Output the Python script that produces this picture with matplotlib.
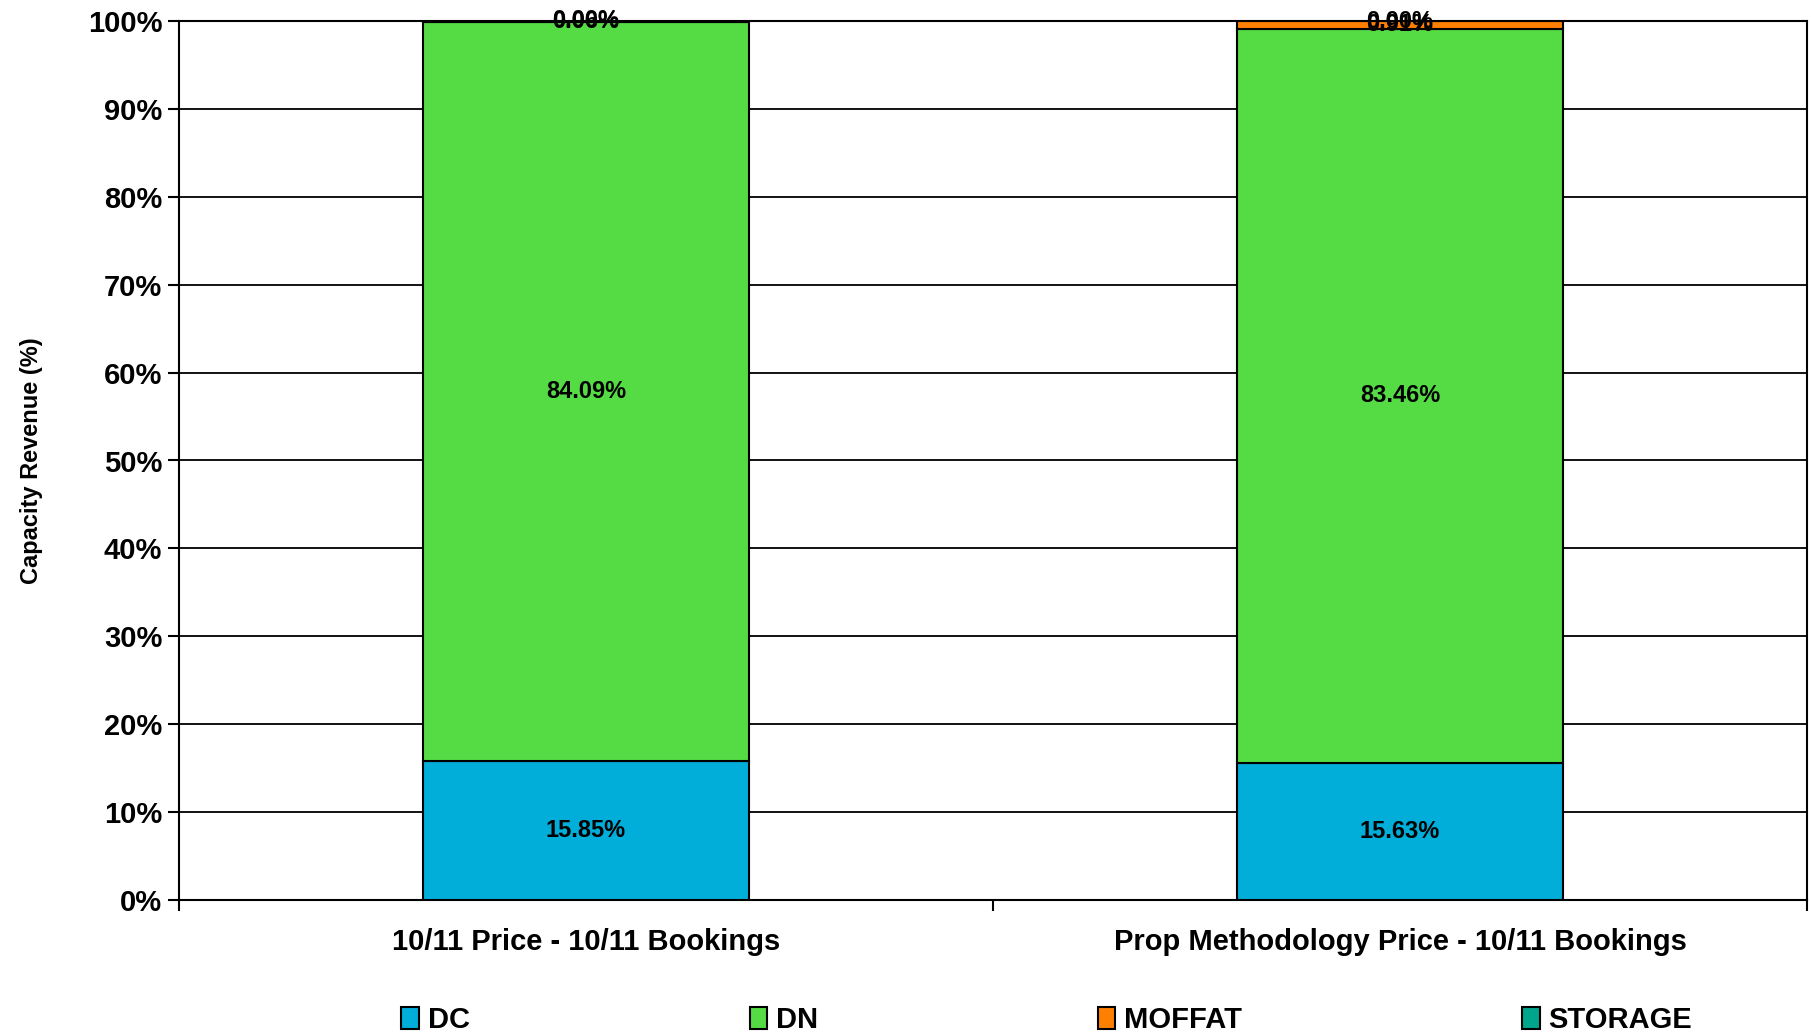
import matplotlib.pyplot as plt
import numpy as np

plt.rcParams['font.family'] = ['Liberation Sans', 'DejaVu Sans']
plt.rcParams['font.weight'] = 'bold'

categories = ['10/11 Price - 10/11 Bookings', 'Prop Methodology Price - 10/11 Bookings']
series = ['DC', 'DN', 'MOFFAT', 'STORAGE']
values = {
    'DC': [15.85, 15.63],
    'DN': [84.09, 83.46],
    'MOFFAT': [0.06, 0.91],
    'STORAGE': [0.00, 0.00],
}
colors = {'DC': '#00AED9', 'DN': '#55DC44', 'MOFFAT': '#FF7F00', 'STORAGE': '#00A68C'}

fig = plt.figure(figsize=(18.11, 10.36), dpi=100)
ax = fig.add_axes([179/1811, 1-900/1036, (1807-179)/1811, (900-21)/1036])

x = np.arange(len(categories))
bottom = np.zeros(len(categories))
handles = []
for s in series:
    v = np.array(values[s])
    b = ax.bar(x, v, 0.4, bottom=bottom, color=colors[s], edgecolor='black', linewidth=1.5, label=s, zorder=3)
    handles.append(b)
    for xi, vi, bi in zip(x, v, bottom):
        ax.text(xi, bi + vi/2, f'{vi:.2f}%', ha='center', va='center', fontsize=17, fontweight='bold', zorder=4)
    bottom += v

ax.set_xlim(-0.5, 1.5)
ax.set_ylim(0, 100)
ax.set_yticks(np.arange(0, 101, 10))
ax.set_yticklabels([f'{t}%' for t in range(0, 101, 10)], fontsize=21, fontweight='bold')
ax.yaxis.grid(True, color='black', linewidth=1.3, zorder=0)
ax.set_axisbelow(True)
ax.set_xticks([-0.5, 0.5, 1.5])
ax.set_xticklabels([])
ax.set_xticks(x, minor=True)
ax.set_xticklabels(categories, minor=True, fontsize=21, fontweight='bold')
ax.tick_params(axis='x', which='minor', length=0, pad=20)
ax.tick_params(axis='x', which='major', length=8, width=1.5, direction='out')
ax.tick_params(axis='y', length=8, width=1.5, direction='out', pad=4)
for sp in ax.spines.values():
    sp.set_linewidth(1.5)
ax.set_ylabel('Capacity Revenue (%)', fontsize=17, fontweight='bold', labelpad=32)

fig.legend(handles=handles, labels=series, loc='center', bbox_to_anchor=(0.578, 0.015), ncol=4,
           frameon=False, columnspacing=9.6, handlelength=0.6, handleheight=0.8,
           handletextpad=0.3, borderpad=0, prop={'weight': 'bold', 'size': 21})

fig.savefig('out.png', dpi=100)
